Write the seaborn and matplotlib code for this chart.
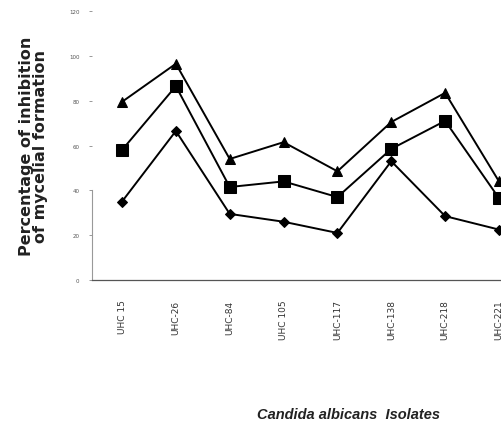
import pandas as pd
import seaborn as sns
import numpy as np
import matplotlib.pyplot as plt

isolates = ['UHC 15', 'UHC-26', 'UHC-84', 'UHC 105', 'UHC-117', 'UHC-138', 'UHC-218', 'UHC-221']
top_series = [79.5, 96.5, 54, 61.5, 48.5, 70.5, 83.5, 44]
mid_series = [58, 86.5, 41.5, 44, 37, 58.5, 71, 36.5]
low_series = [35, 66.5, 29.5, 26, 21, 53, 28.5, 22.5]
y_ticks = [0, 20, 40, 60, 80, 100, 120]

df = pd.DataFrame({
    'pos': list(range(len(isolates))) * 3,
    'inhibition': top_series + mid_series + low_series,
    'series': ['top'] * 8 + ['mid'] * 8 + ['low'] * 8,
})

sns.set_style('white')
plt.rcParams['font.family'] = ['DejaVu Sans']

fig = plt.figure(figsize=(5.02, 4.31), dpi=100)
ax = fig.add_axes([0.1833, 0.348, 0.8536, 0.624])

sns.lineplot(data=df, x='pos', y='inhibition', style='series', markers={'top': '^', 'mid': 's', 'low': 'D'},
             dashes=False, color='black', linewidth=1.4, markersize=7, markeredgecolor='black',
             legend=False, sort=False, ax=ax)
# squares a bit bigger in the scan
for line, ms in zip(ax.lines, [7.5, 8, 5]):
    line.set_markersize(ms)

ax.set_xlim(-0.557, 7.4)
ax.set_ylim(0, 120)
ax.set_xticks(range(len(isolates)))
ax.set_xticklabels(isolates, rotation=90, fontsize=6.5, color='#333333', va='top')
ax.set_yticks(y_ticks)
ax.set_yticklabels([str(t) for t in y_ticks], fontsize=4, color='#555555')
ax.tick_params(axis='x', length=0, pad=14)
ax.tick_params(axis='y', length=2, width=0.6, color='#888888', pad=7, direction='out', left=True)

for s in ['top', 'right']:
    ax.spines[s].set_visible(False)
ax.spines['left'].set_color('#999999')
ax.spines['left'].set_bounds(0, 40)
ax.spines['bottom'].set_color('#555555')
ax.spines['bottom'].set_linewidth(0.9)

ax.set_xlabel('')
ax.set_ylabel('')
fig.text(0.066, 0.66, 'Percentage of inhibition\nof mycelial formation', rotation=90,
         fontsize=11.5, fontweight='bold', ha='center', va='center', linespacing=0.9, color='#222222')
fig.text(0.695, 0.037, 'Candida albicans  Isolates', fontsize=10.5, fontweight='bold', fontstyle='italic',
         family='Liberation Sans', ha='center', va='center', color='#222222')

fig.savefig('out.png', dpi=100)
